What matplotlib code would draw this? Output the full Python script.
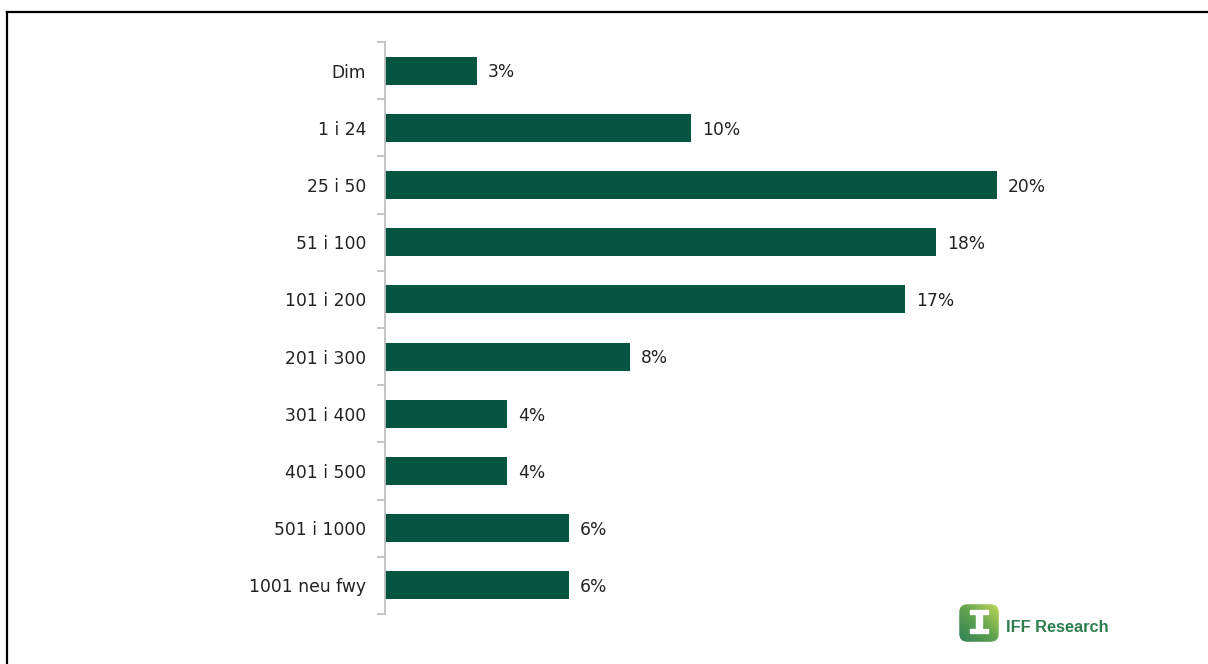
import matplotlib
matplotlib.use("Agg")
import matplotlib.pyplot as plt
import numpy as np
from matplotlib.patches import FancyBboxPatch, Rectangle
from matplotlib.lines import Line2D

categories = ["Dim", "1 i 24", "25 i 50", "51 i 100", "101 i 200", "201 i 300",
              "301 i 400", "401 i 500", "501 i 1000", "1001 neu fwy"]
values = [3, 10, 20, 18, 17, 8, 4, 4, 6, 6]
value_labels = ["3%", "10%", "20%", "18%", "17%", "8%", "4%", "4%", "6%", "6%"]

plt.rcParams['font.family'] = ['DejaVu Sans']

W, H = 1208, 664
fig = plt.figure(figsize=(W / 100, H / 100), dpi=100)
fig.patch.set_facecolor("white")

# border (top and left)
fig.add_artist(Line2D([6.5 / W, 6.5 / W], [0, 1 - 12 / H], transform=fig.transFigure,
                      color="black", lw=1.6))
fig.add_artist(Line2D([6.5 / W, 1], [1 - 12 / H, 1 - 12 / H], transform=fig.transFigure,
                      color="black", lw=1.6))

ax = fig.add_axes([385 / W, 1 - 614 / H, 765 / W, 572 / H])
y = np.arange(len(categories))
bar_color = "#03553F"
ax.barh(y, values, height=0.49, color=bar_color, left=0)
ax.set_xlim(0, 25)
ax.set_ylim(len(categories) - 0.5, -0.5)

for yi, v, lab in zip(y, values, value_labels):
    ax.text(v + 11 / 30.6, yi + 0.03, lab, va="center", ha="left", fontsize=12.3, color="#222222")

for s in ["top", "right", "bottom"]:
    ax.spines[s].set_visible(False)
ax.spines["left"].set_color("#BFBFBF")
ax.spines["left"].set_linewidth(1.3)
ax.set_xticks([])
ax.set_yticks(y)
ax.set_yticklabels(categories, fontsize=12.3, color="#222222")
ax.tick_params(axis="y", which="major", length=0, pad=13.5)
ax.set_yticks(np.arange(-0.5, len(categories), 1.0), minor=True)
ax.tick_params(axis="y", which="minor", length=6, width=1.3, color="#BFBFBF", direction="out")

# logo
lax = fig.add_axes([958 / W, 1 - 643 / H, 42 / W, 40 / H])
lax.set_xlim(0, 1)
lax.set_ylim(0, 1)
lax.axis("off")
grad = np.linspace(0, 1, 100)
gx, gy = np.meshgrid(grad, grad)
g = (gx + (1 - gy)) / 2
cmap = matplotlib.colors.LinearSegmentedColormap.from_list("lg", ["#2E7D5B", "#5FA24E", "#C9DB5A"])
im = lax.imshow(g, extent=[0, 1, 0, 1], origin="upper", cmap=cmap, aspect="auto")
clip = FancyBboxPatch((0.03, 0.03), 0.94, 0.94, boxstyle="round,pad=0,rounding_size=0.2",
                      transform=lax.transData, facecolor="none", edgecolor="none")
lax.add_patch(clip)
im.set_clip_path(clip)
lax.add_patch(Rectangle((0.28, 0.72), 0.44, 0.1, color="white"))
lax.add_patch(Rectangle((0.44, 0.3), 0.12, 0.45, color="white"))
lax.add_patch(Rectangle((0.28, 0.25), 0.44, 0.1, color="white"))
fig.text(1006 / W, 1 - 627 / H, "IFF Research", fontsize=11.8, fontweight="bold",
         color="#2E7D4F", va="center", ha="left", family="Liberation Sans")

fig.savefig("out.png", dpi=100, facecolor="white")
